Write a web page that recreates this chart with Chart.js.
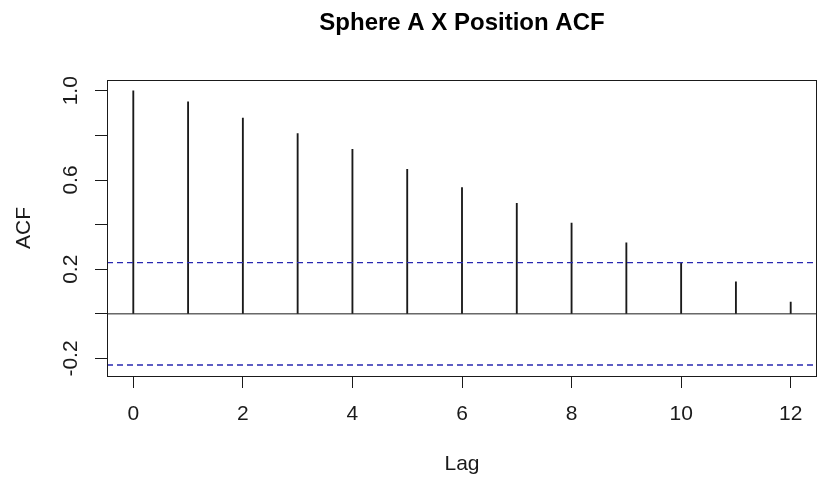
<!DOCTYPE html>
<html>
<head>
<meta charset="utf-8">
<script src="https://cdn.jsdelivr.net/npm/chart.js@4/dist/chart.umd.min.js"></script>
<style>
  html, body { margin: 0; padding: 0; background: #ffffff; }
  #wrap { width: 817px; height: 477px; }
</style>
</head>
<body>
<div id="wrap"><canvas id="c" width="817" height="477"></canvas></div>
<script>
// ---- data ----
const lags = [0, 1, 2, 3, 4, 5, 6, 7, 8, 9, 10, 11, 12];
const acfValues = [1.0, 0.950, 0.878, 0.808, 0.738, 0.648, 0.566, 0.495, 0.407, 0.318, 0.230, 0.143, 0.053];
const ciBound = 0.2294;
const xTickValues = [0, 2, 4, 6, 8, 10, 12];
const yTickValues = [-0.2, 0.0, 0.2, 0.4, 0.6, 0.8, 1.0];
const yTickLabels = ['-0.2', '', '0.2', '', '0.6', '', '1.0'];
const titleText = 'Sphere A X Position ACF';
const xTitle = 'Lag';
const yTitle = 'ACF';

// axis limits (R style: data range extended by 4%)
const xMin = -0.48, xMax = 12.48;
const yMin = -0.2786, yMax = 1.0492;

const FONT = "'Liberation Sans', Arial, Helvetica, sans-serif";
const INK = '#1a1a1a';
const BLUE = '#2828b0';

const acfPoints = lags.map((l, i) => ({ x: l, y: acfValues[i] }));
const hLine = v => [{ x: xMin, y: v }, { x: xMax, y: v }];

const rPlot = {
  id: 'rPlot',
  afterDraw(chart) {
    const { ctx, chartArea: a, scales: { y } } = chart;
    ctx.save();
    // plot box
    ctx.strokeStyle = INK;
    ctx.lineWidth = 1;
    ctx.strokeRect(Math.round(a.left) + 0.5, Math.round(a.top) + 0.5,
                   Math.round(a.right - a.left) - 1, Math.round(a.bottom - a.top));
    // rotated y tick labels (R style, las=0)
    ctx.fillStyle = INK;
    ctx.font = '21px ' + FONT;
    ctx.textAlign = 'center';
    ctx.textBaseline = 'middle';
    yTickValues.forEach((v, i) => {
      const lab = yTickLabels[i];
      if (!lab) return;
      const py = y.getPixelForValue(v);
      ctx.save();
      ctx.translate(71, py);
      ctx.rotate(-Math.PI / 2);
      ctx.fillText(lab, 0, 0);
      ctx.restore();
    });
    ctx.restore();
  }
};

new Chart(document.getElementById('c'), {
  type: 'bar',
  data: {
    datasets: [
      {
        type: 'bar',
        label: 'ACF',
        data: acfPoints,
        backgroundColor: INK,
        borderWidth: 0,
        barThickness: 1.2,
        grouped: false,
        order: 2
      },
      {
        type: 'line',
        label: 'zero',
        data: hLine(0),
        borderColor: INK,
        borderWidth: 1,
        pointRadius: 0,
        fill: false,
        order: 1
      },
      {
        type: 'line',
        label: 'upper',
        data: hLine(ciBound),
        borderColor: BLUE,
        borderWidth: 1.3,
        borderDash: [6, 4],
        pointRadius: 0,
        fill: false,
        order: 0
      },
      {
        type: 'line',
        label: 'lower',
        data: hLine(-ciBound),
        borderColor: BLUE,
        borderWidth: 1.3,
        borderDash: [6, 4],
        pointRadius: 0,
        fill: false,
        order: 0
      }
    ]
  },
  options: {
    responsive: false,
    animation: false,
    devicePixelRatio: 1,
    layout: { padding: 0 },
    plugins: {
      legend: { display: false },
      tooltip: { enabled: false },
      title: {
        display: true,
        text: titleText,
        fullSize: false,
        color: '#000000',
        font: { family: FONT, size: 24, weight: 'bold' },
        padding: { top: 9, bottom: 42 }
      }
    },
    scales: {
      x: {
        type: 'linear',
        min: xMin,
        max: xMax,
        offset: false,
        afterBuildTicks: s => { s.ticks = xTickValues.map(v => ({ value: v })); },
        afterFit: s => { s.height = 101; },
        border: { display: false },
        grid: { offset: false, drawOnChartArea: false, drawTicks: true, tickLength: 12, color: INK, lineWidth: 1 },
        ticks: {
          includeBounds: false,
          autoSkip: false,
          maxRotation: 0,
          minRotation: 0,
          padding: 14,
          color: INK,
          font: { family: FONT, size: 21 },
          callback: v => String(v)
        },
        title: {
          display: true,
          text: xTitle,
          color: INK,
          font: { family: FONT, size: 21 },
          padding: { top: 0, bottom: 0 }
        }
      },
      y: {
        type: 'linear',
        min: yMin,
        max: yMax,
        afterBuildTicks: s => { s.ticks = yTickValues.map(v => ({ value: v })); },
        afterFit: s => { s.width = 107; },
        border: { display: false },
        grid: { offset: false, drawOnChartArea: false, drawTicks: true, tickLength: 12, color: INK, lineWidth: 1 },
        ticks: {
          includeBounds: false,
          autoSkip: false,
          color: INK,
          font: { family: FONT, size: 21 },
          callback: () => ''
        },
        title: {
          display: true,
          text: yTitle,
          color: INK,
          font: { family: FONT, size: 21 },
          padding: { top: 12, bottom: 0 }
        }
      }
    }
  },
  plugins: [rPlot]
});
</script>
</body>
</html>
